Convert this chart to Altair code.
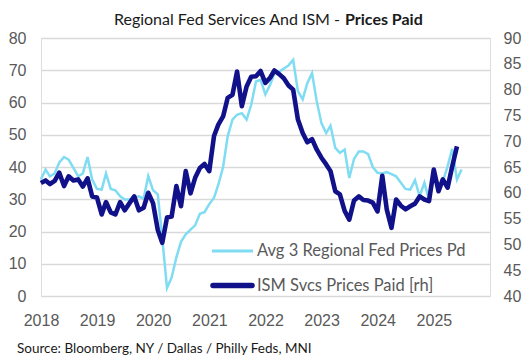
import altair as alt
import pandas as pd

# Avg of 3 regional Fed services prices paid (left axis), month-end from Dec 2017
light_vals = [36.1, 39.2, 37.1, 38.0, 41.4, 43.1, 42.3, 39.7, 37.1, 38.0,
              43.1, 36.1, 33.2, 33.0, 38.0, 33.2, 32.8, 30.9, 29.9, 29.9,
              30.5, 30.9, 30.2, 37.2, 32.8, 31.5, 18.0, 2.5, 5.7, 12.0,
              16.8, 19.1, 20.6, 21.9, 25.5, 26.0, 28.5, 30.5, 34.5, 40.0,
              49.5, 54.7, 56.2, 56.7, 54.7, 59.3, 66.5, 67.0, 62.5, 65.5,
              69.0, 69.6, 70.5, 71.5, 73.2, 63.5, 61.0, 66.0, 69.1, 60.5,
              53.6, 50.5, 52.8, 45.9, 44.4, 45.4, 36.6, 42.5, 44.8, 44.8,
              44.0, 40.0, 38.2, 38.0, 38.4, 37.8, 37.1, 35.1, 33.2, 33.0,
              35.9, 30.9, 35.1, 29.9, 38.2, 34.5, 35.5, 40.2, 45.6, 36.1,
              39.2]
# ISM services prices paid (right axis)
dark_vals = [61.9, 62.4, 61.7, 62.3, 63.9, 61.3, 63.2, 62.4, 62.6, 61.2,
             62.8, 59.3, 59.1, 55.8, 58.2, 56.2, 55.8, 58.2, 56.6, 58.0,
             59.3, 56.6, 57.1, 60.0, 58.0, 52.8, 50.3, 55.2, 55.4, 61.3,
             57.4, 64.2, 59.9, 62.9, 64.8, 65.6, 64.2, 71.0, 73.2, 74.8,
             78.4, 79.0, 83.5, 76.8, 80.6, 82.5, 82.6, 83.6, 81.3, 82.3,
             83.7, 83.0, 82.2, 80.8, 80.0, 74.2, 71.6, 69.8, 70.4, 68.4,
             66.8, 65.5, 64.2, 60.3, 59.7, 56.5, 54.8, 58.5, 59.3, 58.6,
             58.5, 58.1, 56.4, 63.3, 56.8, 53.2, 58.7, 57.5, 56.8, 57.4,
             57.9, 59.3, 58.7, 58.4, 64.5, 60.3, 62.6, 61.0, 65.1, 69.0]

months = (pd.date_range("2017-12-01", periods=len(light_vals), freq="MS")
          + pd.offsets.MonthEnd(0)).strftime("%Y-%m-%d").tolist()

year_ticks = list(range(2018, 2026))
left_ticks = list(range(0, 81, 10))
right_ticks = list(range(40, 91, 5))

series_names = ["Avg 3 Regional Fed Prices Pd", "ISM Svcs Prices Paid [rh]"]
title_main = "Regional Fed Services And ISM -"
title_bold = "Prices Paid"
source_text = "Source: Bloomberg, NY / Dallas / Philly Feds, MNI"

LIGHT = "#7fdcf2"
DARK = "#11118a"
GRAY = "#595959"
W, H = 449, 258
TXTFONT = "Lato"
AXFONT = "Liberation Sans"

df_light = pd.DataFrame({"date": months, "value": light_vals})
df_dark = pd.DataFrame({"date": months[:len(dark_vals)], "value": dark_vals})

xscale = alt.Scale(type="utc", domain=[
    alt.DateTime(year=2018, month=1, date=1, utc=True),
    alt.DateTime(year=2026, month=1, date=1, utc=True)])
xaxis = alt.Axis(values=[alt.DateTime(year=y, month=1, date=1, utc=True) for y in year_ticks],
                 labelExpr="utcFormat(datum.value, '%Y')", title=None, grid=False,
                 labelFont=AXFONT, labelFontSize=16, labelColor=GRAY, labelPadding=16,
                 labelFlush=False, labelOverlap=False, domain=False, ticks=False)

light = alt.Chart(df_light).mark_line(color=LIGHT, strokeWidth=2.5).encode(
    x=alt.X("date:T", scale=xscale, axis=xaxis),
    y=alt.Y("value:Q", scale=alt.Scale(domain=[0, 80], nice=False),
            axis=alt.Axis(values=left_ticks, title=None, grid=True, gridColor="#d9d9d9",
                          gridWidth=1.5, domain=False, ticks=False, labelFont=AXFONT,
                          labelFontSize=16, labelColor=GRAY, labelPadding=15)))

dark = alt.Chart(df_dark).mark_line(color=DARK, strokeWidth=4.6, strokeJoin="round").encode(
    x=alt.X("date:T", scale=xscale, axis=xaxis),
    y=alt.Y("value:Q", scale=alt.Scale(domain=[40, 90], nice=False),
            axis=alt.Axis(values=right_ticks, orient="right", title=None, grid=False,
                          domain=False, ticks=False, labelFont=AXFONT, labelFontSize=16,
                          labelColor=GRAY, labelPadding=13)))

one = pd.DataFrame({"k": [0]})

leg_light = alt.Chart(one).mark_rule(color=LIGHT, strokeWidth=3).encode(
    x=alt.value(171), x2=alt.value(212), y=alt.value(213))
leg_dark = alt.Chart(one).mark_rule(color=DARK, strokeWidth=5.5, strokeCap="round").encode(
    x=alt.value(172), x2=alt.value(211), y=alt.value(247.5))
leg_txt = alt.Chart(pd.DataFrame({"t": series_names, "yy": [213, 247.5]})).mark_text(
    align="left", baseline="middle", font=TXTFONT, fontSize=16.5, color=GRAY).encode(
    text="t:N", x=alt.value(216), y=alt.Y("yy:Q", scale=None))

t1 = alt.Chart(pd.DataFrame({"t": [title_main]})).mark_text(
    align="right", baseline="middle", font=TXTFONT, fontSize=16, color="#1a1a1a").encode(
    text="t:N", x=alt.value(299), y=alt.value(-18))
t2 = alt.Chart(pd.DataFrame({"t": [title_bold]})).mark_text(
    align="left", baseline="middle", font=TXTFONT, fontSize=16, fontWeight="bold",
    color="#1a1a1a").encode(text="t:N", x=alt.value(304), y=alt.value(-18))
src = alt.Chart(pd.DataFrame({"t": [source_text]})).mark_text(
    align="left", baseline="middle", font=TXTFONT, fontSize=13.5, color="#1a1a1a").encode(
    text="t:N", x=alt.value(-24), y=alt.value(311))

chart = alt.layer(light, dark, leg_light, leg_dark, leg_txt, t1, t2, src).resolve_scale(
    y="independent").properties(
    width=W, height=H,
    autosize=alt.AutoSizeParams(type="none"),
    padding={"left": 33, "top": 30, "right": 32, "bottom": 59},
).configure_view(stroke=None).configure(background="white")

chart.save("out.html", embed_options={"renderer": "svg", "actions": False})
